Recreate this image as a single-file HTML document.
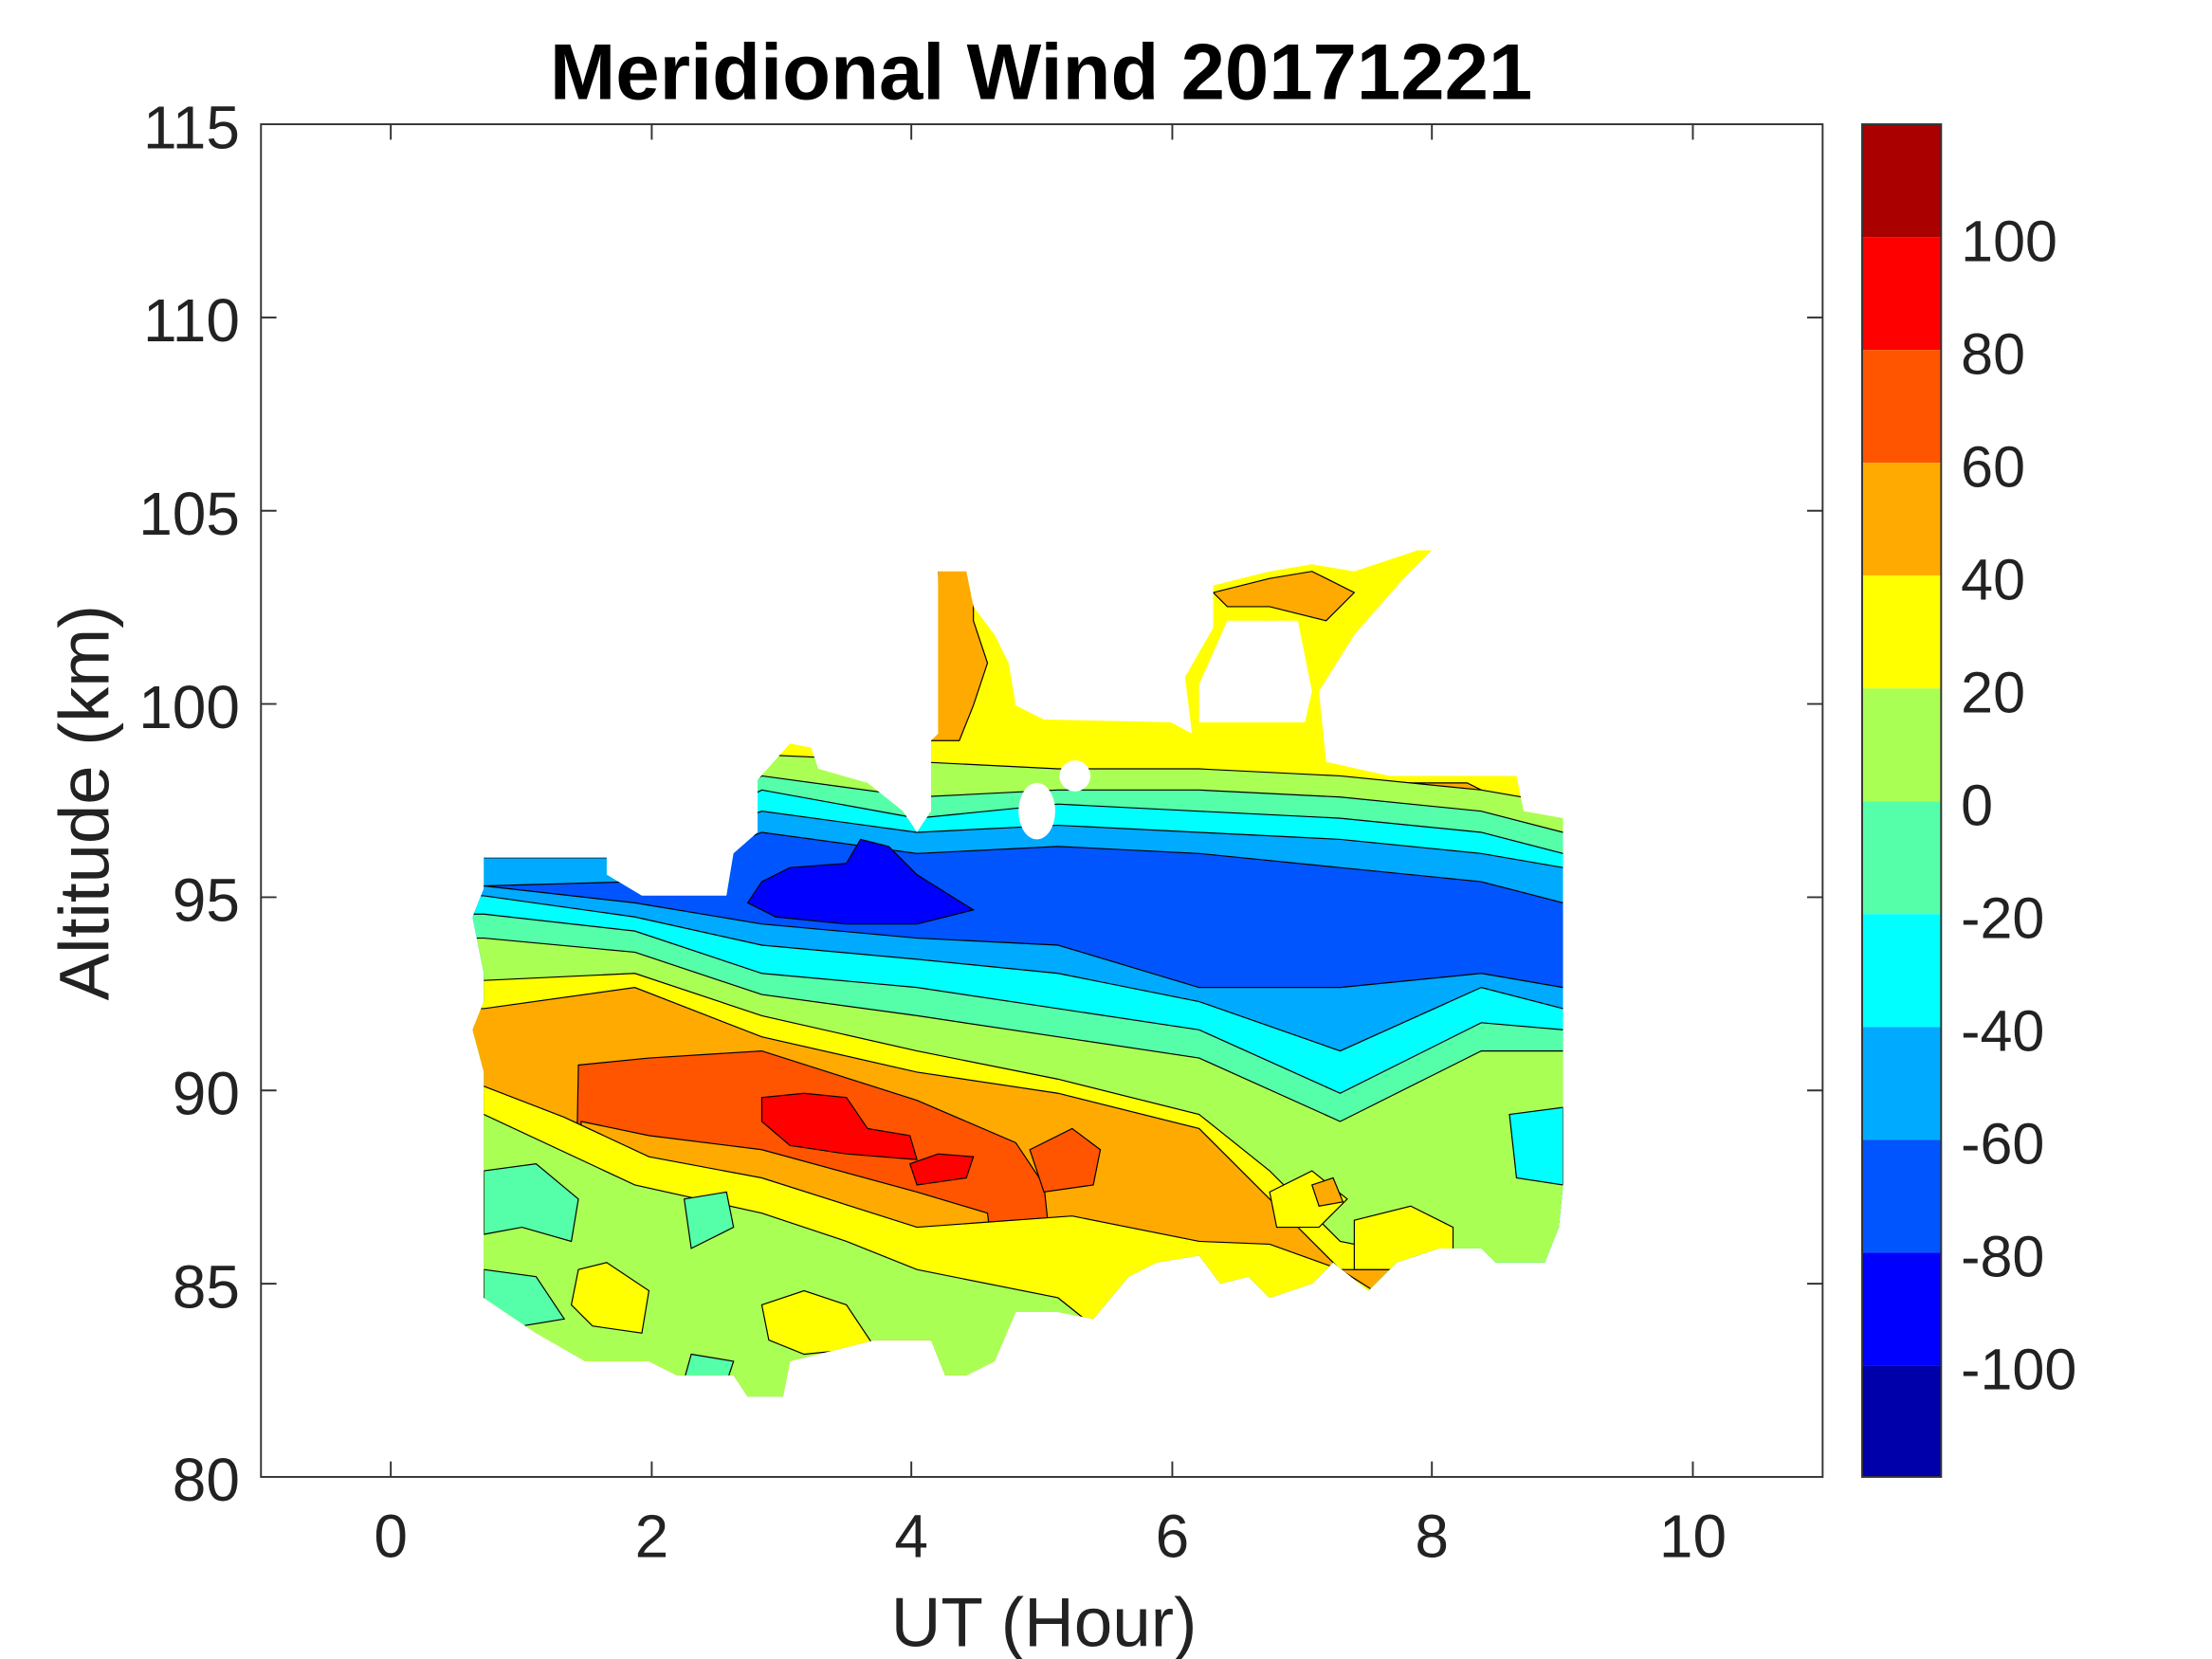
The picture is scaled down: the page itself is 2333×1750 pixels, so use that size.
<!DOCTYPE html>
<html><head><meta charset="utf-8"><style>html,body{margin:0;padding:0;background:#fff}svg{display:block}</style></head>
<body>
<svg width="2333" height="1750" viewBox="0 0 1568 1176" xmlns="http://www.w3.org/2000/svg" font-family="Liberation Sans, sans-serif">
<defs>
<clipPath id="c"><polygon points="343,608 430,608 430,620 455,635 515,635 520,605 537,590 537,553 560,527 575,530 580,545 615,555 640,575 650,590 660,575 660,525 665,520 665,405 685,405 690,430 705,450 715,470 720,500 740,510 830,512 845,520 840,480 860,445 860,415 880,410 900,405 930,400 960,405 990,395 1005,390 1015,390 995,410 960,450 935,490 940,540 985,550 1075,550 1080,575 1108,580 1108,840 1105,870 1095,895 1060,895 1050,885 1020,885 990,895 970,915 945,895 930,910 900,920 885,905 865,910 850,890 820,895 800,905 775,935 750,930 720,930 705,965 685,975 670,975 660,950 620,950 560,965 555,990 530,990 520,975 480,975 460,965 415,965 380,945 343,920 343,760 335,730 343,710 343,690 335,650 343,630"/></clipPath>
</defs>
<g clip-path="url(#c)" stroke="#000" stroke-width="0.8">
<rect x="300" y="380" width="850" height="650" fill="#FFFF00" stroke="none"/>
<polygon points="665,400 690,400 690,440 700,470 690,500 680,525 660,525" fill="#FFAA00"/>
<polygon points="860,420 900,410 930,405 960,420 940,440 900,430 870,430" fill="#FFAA00"/>
<polygon points="985,555 1040,555 1060,565 1080,580 1040,570" fill="#FFAA00"/>
<polygon points="300,600 343,600 450,600 540,535 650,540 750,545 850,545 950,550 1050,560 1108,570 1150,570 1150,1030 300,1030" fill="#AAFF55"/>
<polygon points="300,605 343,605 450,605 540,550 650,565 750,560 850,560 950,565 1050,575 1108,590 1150,590 1150,1030 300,1030" fill="#55FFAA"/>
<polygon points="300,607 343,607 450,607 540,560 650,580 750,570 850,575 950,580 1050,590 1108,605 1150,605 1150,1030 300,1030" fill="#00FFFF"/>
<polygon points="300,608 343,608 450,608 540,575 650,590 750,585 850,590 950,595 1050,605 1108,615 1150,615 1150,1030 300,1030" fill="#00AAFF"/>
<polygon points="300,628 343,628 450,625 540,590 650,605 750,600 850,605 950,615 1050,625 1108,640 1150,640 1150,1030 300,1030" fill="#0055FF"/>
<polygon points="540,625 560,615 600,612 610,595 630,600 650,620 690,645 650,655 600,655 550,650 530,640" fill="#0000FF"/>
<polygon points="300,628 343,628 450,640 540,655 650,665 750,670 850,700 950,700 1050,690 1108,700 1150,700 1150,1030 300,1030" fill="#00AAFF"/>
<polygon points="300,635 343,635 450,650 540,670 650,680 750,690 850,710 950,745 1050,700 1108,715 1150,715 1150,1030 300,1030" fill="#00FFFF"/>
<polygon points="300,648 343,648 450,660 540,690 650,700 750,715 850,730 950,775 1050,725 1108,730 1150,730 1150,1030 300,1030" fill="#55FFAA"/>
<polygon points="300,665 343,665 450,675 540,705 650,720 750,735 850,750 950,795 1050,745 1108,745 1150,745 1150,1030 300,1030" fill="#AAFF55"/>
<polygon points="1070,790 1108,785 1108,840 1075,835" fill="#00FFFF"/>
<polygon points="300,695 343,695 450,690 540,720 650,745 750,765 850,790 900,830 950,880 1050,900 1150,900 1150,1030 300,1030" fill="#FFFF00"/>
<polygon points="300,715 343,715 450,700 540,735 650,760 750,775 850,800 900,850 950,900 1150,900 1150,1030 300,1030" fill="#FFAA00"/>
<polygon points="300,1030 405,1030 410,755 460,750 540,745 650,780 720,810 740,840 760,1030" fill="#FF5500"/>
<polygon points="730,815 760,800 780,815 775,840 740,845" fill="#FF5500"/>
<polygon points="540,778 570,775 600,778 615,800 645,805 650,822 600,818 560,812 540,795" fill="#FF0000"/>
<polygon points="645,825 665,818 690,820 685,835 650,840" fill="#FF0000"/>
<polygon points="300,1030 405,1030 412,795 460,805 540,815 650,845 700,860 720,1030" fill="#FFAA00"/>
<polygon points="300,770 343,770 400,792 460,820 540,835 650,870 760,862 850,880 900,882 950,900 1108,1000 1150,1030 300,1030" fill="#FFFF00"/>
<polygon points="300,790 343,790 450,840 540,860 600,880 650,900 750,920 850,1000 850,1030 300,1030" fill="#AAFF55"/>
<polygon points="343,830 380,825 410,850 405,880 370,870 343,875" fill="#55FFAA"/>
<polygon points="485,850 515,845 520,870 490,885" fill="#55FFAA"/>
<polygon points="343,900 380,905 400,935 370,940 343,925" fill="#55FFAA"/>
<polygon points="410,900 430,895 460,915 455,945 420,940 405,925" fill="#FFFF00"/>
<polygon points="540,925 570,915 600,925 620,955 570,960 545,950" fill="#FFFF00"/>
<polygon points="900,845 930,830 955,850 935,870 905,870" fill="#FFFF00"/>
<polygon points="930,840 945,835 952,852 935,855" fill="#FFAA00"/>
<polygon points="960,865 1000,855 1030,870 1030,900 960,900" fill="#FFFF00"/>
<polygon points="490,960 520,965 515,980 485,978" fill="#55FFAA"/>
</g>
<g fill="#fff">
<ellipse cx="735" cy="575" rx="13" ry="20"/>
<circle cx="762" cy="550" r="11"/>
<polygon points="850,485 870,440 920,440 930,490 925,512 850,512"/>
</g>
<rect x="185" y="88" width="1107" height="959" fill="none" stroke="#333" stroke-width="1.3"/>
<g stroke="#333" stroke-width="1.3">
<path d="M277,1047v-11M462,1047v-11M646,1047v-11M831,1047v-11M1015,1047v-11M1200,1047v-11M277,88v11M462,88v11M646,88v11M831,88v11M1015,88v11M1200,88v11"/>
<path d="M185,910h11M185,773h11M185,636h11M185,499h11M185,362h11M185,225h11M1292,910h-11M1292,773h-11M1292,636h-11M1292,499h-11M1292,362h-11M1292,225h-11"/>
</g>
<g font-size="43" fill="#222" text-anchor="end">
<text x="170" y="105">115</text><text x="170" y="242">110</text><text x="170" y="379">105</text><text x="170" y="516">100</text><text x="170" y="653">95</text><text x="170" y="790">90</text><text x="170" y="927">85</text><text x="170" y="1064">80</text>
</g>
<g font-size="43" fill="#222" text-anchor="middle">
<text x="277" y="1104">0</text><text x="462" y="1104">2</text><text x="646" y="1104">4</text><text x="831" y="1104">6</text><text x="1015" y="1104">8</text><text x="1200" y="1104">10</text>
<text x="740" y="1167" font-size="49">UT (Hour)</text>
<text transform="translate(77,569) rotate(-90)" font-size="50">Altitude (km)</text>
<text x="738" y="70" font-size="56" font-weight="bold" fill="#000">Meridional Wind 20171221</text>
</g>
<g>
<rect x="1320" y="88" width="56" height="80" fill="#AA0000"/>
<rect x="1320" y="168" width="56" height="80" fill="#FF0000"/>
<rect x="1320" y="248" width="56" height="80" fill="#FF5500"/>
<rect x="1320" y="328" width="56" height="80" fill="#FFAA00"/>
<rect x="1320" y="408" width="56" height="80" fill="#FFFF00"/>
<rect x="1320" y="488" width="56" height="80" fill="#AAFF55"/>
<rect x="1320" y="568" width="56" height="80" fill="#55FFAA"/>
<rect x="1320" y="648" width="56" height="80" fill="#00FFFF"/>
<rect x="1320" y="728" width="56" height="80" fill="#00AAFF"/>
<rect x="1320" y="808" width="56" height="80" fill="#0055FF"/>
<rect x="1320" y="888" width="56" height="80" fill="#0000FF"/>
<rect x="1320" y="968" width="56" height="79" fill="#0000AA"/>
<rect x="1320" y="88" width="56" height="959" fill="none" stroke="#333" stroke-width="1.3"/>
</g>
<g font-size="41" fill="#222">
<text x="1390" y="185">100</text><text x="1390" y="265">80</text><text x="1390" y="345">60</text><text x="1390" y="425">40</text><text x="1390" y="505">20</text><text x="1390" y="585">0</text><text x="1390" y="665">-20</text><text x="1390" y="745">-40</text><text x="1390" y="825">-60</text><text x="1390" y="905">-80</text><text x="1390" y="985">-100</text>
</g>
</svg>
</body></html>
